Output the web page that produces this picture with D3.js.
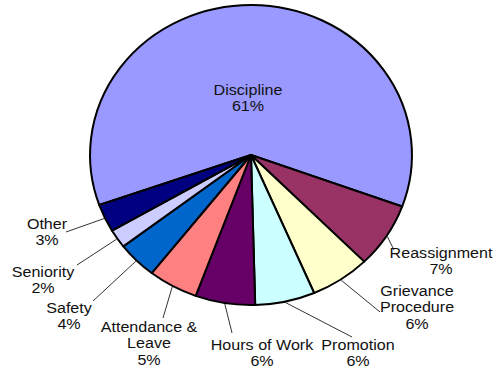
<!DOCTYPE html>
<html>
<head>
<meta charset="utf-8">
<script src="https://cdn.jsdelivr.net/npm/d3@7"></script>
<style>
  html, body { margin: 0; padding: 0; background: #fff; }
  svg { display: block; }
  text { font-family: "Liberation Sans", Arial, sans-serif; font-size: 15px; fill: #111; }
</style>
</head>
<body>
<svg id="chart" width="497" height="370"></svg>
<script>
// Grievance categories (clockwise from Discipline) and their shares in percent
const categories = ["Discipline", "Reassignment", "Grievance Procedure", "Promotion",
                    "Hours of Work", "Attendance & Leave", "Safety", "Seniority", "Other"];
const shares = [61, 7, 6, 6, 6, 5, 4, 2, 3];
// Text lines for each slice label (category name wrapped as displayed)
const labelLines = [["Discipline"], ["Reassignment"], ["Grievance", "Procedure"], ["Promotion"],
                    ["Hours of Work"], ["Attendance &", "Leave"], ["Safety"], ["Seniority"], ["Other"]];

// Slice fills
const palette = ["#9999FF", "#993366", "#FFFFCC", "#CCFFFF", "#660066",
                 "#FF8080", "#0066CC", "#CCCCFF", "#000080"];

// Label placement: text centre x / first baseline y, and outer end of the leader line
const labelLayout = [
  { tx: 248, ty: 95,  lead: null },
  { tx: 441, ty: 258, lead: [394, 250] },
  { tx: 417, ty: 296, lead: [380, 312] },
  { tx: 358, ty: 350, lead: [352, 337] },
  { tx: 262, ty: 350, lead: [232, 333] },
  { tx: 149, ty: 332, lead: [163, 318] },
  { tx: 69,  ty: 313, lead: [93, 301] },
  { tx: 43,  ty: 277, lead: [77, 265] },
  { tx: 47,  ty: 229, lead: [66, 232] }
];

const cx = 251, cy = 155, r = 150, sx = 1.073, lineH = 16.5;

const svg = d3.select("#chart");
const data = categories.map((c, i) => ({ name: c, value: shares[i], i }));

const pie = d3.pie()
  .sort(null)
  .value(d => d.value)
  .startAngle(-109.5 * Math.PI / 180)
  .endAngle((360 - 109.5) * Math.PI / 180);

const arcs = pie(data);
const arc = d3.arc().innerRadius(0).outerRadius(r);

const g = svg.append("g").attr("transform", `translate(${cx},${cy}) scale(${sx},1)`);

g.selectAll("path.slice")
  .data(arcs)
  .join("path")
  .attr("class", "slice")
  .attr("d", arc)
  .attr("fill", d => palette[d.data.i])
  .attr("stroke", "#000")
  .attr("stroke-width", 2)
  .attr("stroke-linejoin", "round")
  .attr("vector-effect", "non-scaling-stroke");

// Point on the pie's rim at a slice's mid angle, in page coordinates
function rimPoint(d, extra) {
  const a = (d.startAngle + d.endAngle) / 2;
  return [cx + sx * (r + extra) * Math.sin(a), cy - (r + extra) * Math.cos(a)];
}

// Leader lines
svg.append("g")
  .selectAll("line")
  .data(arcs.filter(d => labelLayout[d.data.i].lead))
  .join("line")
  .attr("x1", d => rimPoint(d, 1)[0])
  .attr("y1", d => rimPoint(d, 1)[1])
  .attr("x2", d => labelLayout[d.data.i].lead[0])
  .attr("y2", d => labelLayout[d.data.i].lead[1])
  .attr("stroke", "#333")
  .attr("stroke-width", 1);

// Labels: category name plus percentage
const labels = svg.append("g")
  .selectAll("text")
  .data(arcs)
  .join("text")
  .attr("text-anchor", "middle")
  .attr("transform", d => `translate(${labelLayout[d.data.i].tx},${labelLayout[d.data.i].ty}) scale(${sx},1)`);

labels.each(function(d) {
  const t = d3.select(this);
  const lines = labelLines[d.data.i].concat([d3.format(".0f")(d.data.value) + "%"]);
  lines.forEach((ln, k) => {
    t.append("tspan").attr("x", 0).attr("y", k * lineH).text(ln);
  });
});
</script>
</body>
</html>
